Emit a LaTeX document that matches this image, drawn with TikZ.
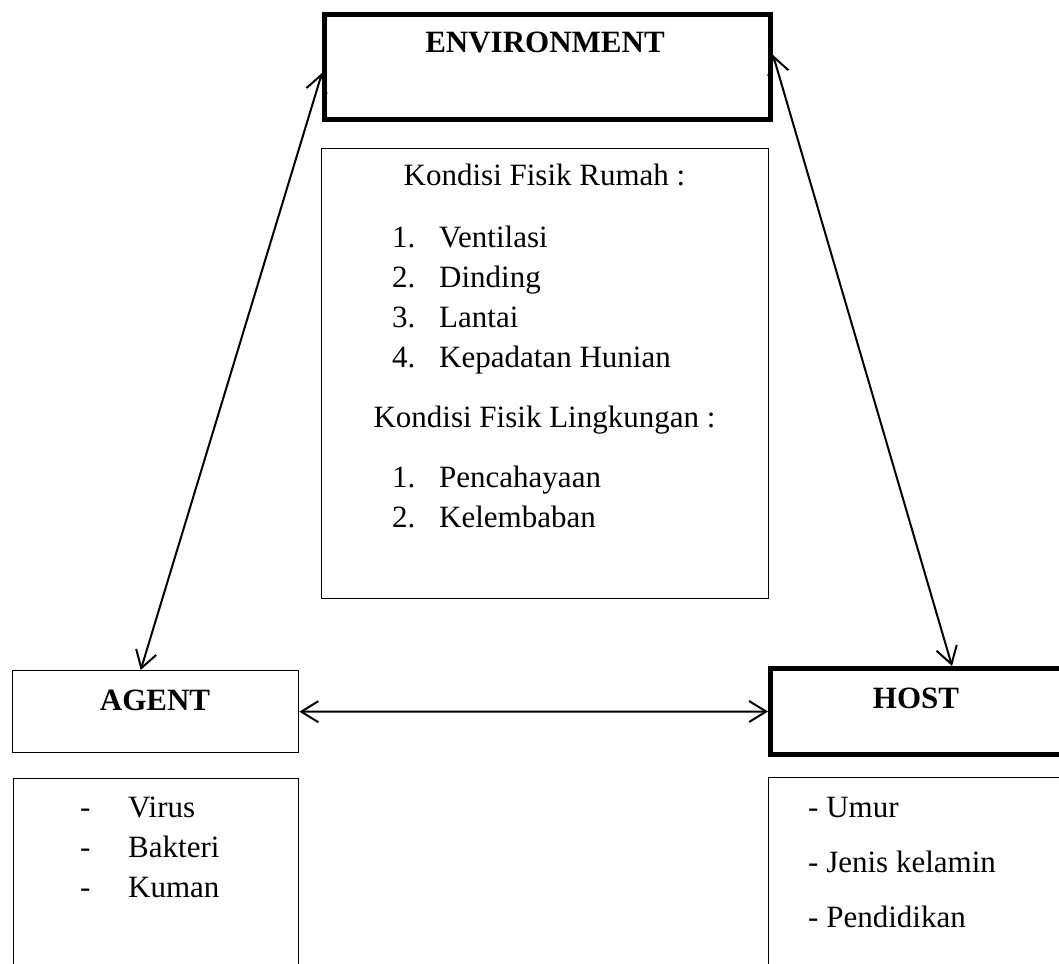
\documentclass[tikz,border=0pt]{standalone}
\usepackage{fontspec}
\setmainfont{Liberation Serif}
\usetikzlibrary{arrows.meta}
\begin{document}
\begin{tikzpicture}[x=1pt,y=-1pt,
  thickbox/.style={draw, line width=5pt, rectangle, inner sep=0pt, anchor=north west},
  thinbox/.style={draw, line width=1.4pt, rectangle, inner sep=0pt, anchor=north west},
  txt/.style={inner sep=0pt, font=\fontsize{31}{40}\selectfont},
  link/.style={line width=2pt, {Straight Barb[length=17pt,width=21pt,line width=2pt]}-{Straight Barb[length=17pt,width=21pt,line width=2pt]}}
]
\useasboundingbox (0,0) rectangle (1059,963);
\clip (0,0) rectangle (1059,963);
% boxes
\node[thickbox, minimum width=446pt, minimum height=105pt] (env) at (322,12) {};
\node[thinbox, minimum width=447pt, minimum height=450pt] (envlist) at (321,148) {};
\node[thinbox, minimum width=286pt, minimum height=82pt] (agent) at (12,670) {};
\node[thinbox, minimum width=285pt, minimum height=300pt] (agentlist) at (13,778) {};
\node[thickbox, minimum width=400pt, minimum height=86pt] (host) at (768,666) {};
\node[thinbox, minimum width=400pt, minimum height=300pt] (hostlist) at (768,777) {};
% titles
\node[txt, anchor=base, font=\fontsize{31}{40}\selectfont\bfseries] (envt) at (545,53) {ENVIRONMENT};
\node[txt, anchor=base, font=\fontsize{31}{40}\selectfont\bfseries] (agentt) at (155,710) {AGENT};
\node[txt, anchor=base, font=\fontsize{31}{40}\selectfont\bfseries] (hostt) at (916,708) {HOST};
% environment list
\node[txt, anchor=base] (k1) at (544.5,185) {Kondisi Fisik Rumah :};
\node[txt, anchor=base west] (n1) at (392,247) {1.};
\node[txt, anchor=base west] (t1) at (439,247) {Ventilasi};
\node[txt, anchor=base west] (n2) at (392,287) {2.};
\node[txt, anchor=base west] (t2) at (439,287) {Dinding};
\node[txt, anchor=base west] (n3) at (392,327) {3.};
\node[txt, anchor=base west] (t3) at (439,327) {Lantai};
\node[txt, anchor=base west] (n4) at (392,367) {4.};
\node[txt, anchor=base west] (t4) at (439,367) {Kepadatan Hunian};
\node[txt, anchor=base] (k2) at (544.5,427) {Kondisi Fisik Lingkungan :};
\node[txt, anchor=base west] (m1) at (392,487) {1.};
\node[txt, anchor=base west] (u1) at (439,487) {Pencahayaan};
\node[txt, anchor=base west] (m2) at (392,527) {2.};
\node[txt, anchor=base west] (u2) at (439,527) {Kelembaban};
% agent list
\node[txt, anchor=base west] (d1) at (80,817) {-};
\node[txt, anchor=base west] (a1) at (128,817) {Virus};
\node[txt, anchor=base west] (d2) at (80,857) {-};
\node[txt, anchor=base west] (a2) at (128,857) {Bakteri};
\node[txt, anchor=base west] (d3) at (80,897) {-};
\node[txt, anchor=base west] (a3) at (128,897) {Kuman};
% host list
\node[txt, anchor=base west] (h1) at (808,817) {- Umur};
\node[txt, anchor=base west] (h2) at (808,872) {- Jenis kelamin};
\node[txt, anchor=base west] (h3) at (808,927) {- Pendidikan};
% connectors
\draw[link] ([yshift=-6pt]env.west) -- ([xshift=-15pt]agent.north);
\draw[link] ([yshift=12pt]env.east) -- ([xshift=184pt]host.north west);
\draw[link] (agent.east) -- (host.west);
\end{tikzpicture}
\end{document}
